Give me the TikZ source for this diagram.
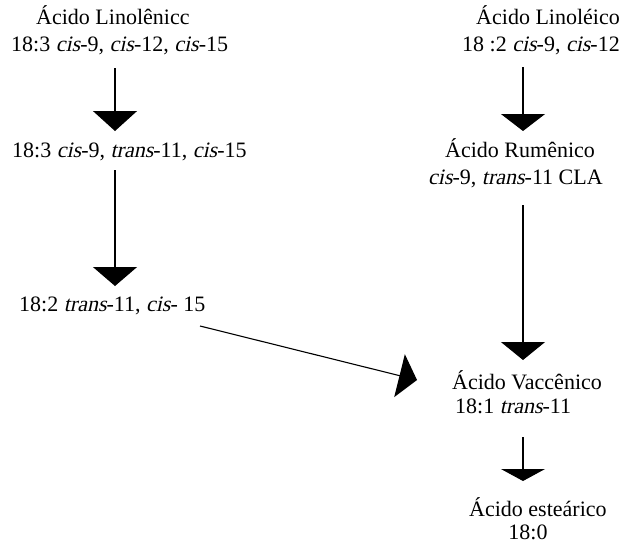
\documentclass[tikz,border=0pt]{standalone}
\usepackage{fontspec}
\setmainfont{Liberation Serif}[ItalicFont={Liberation Serif}, ItalicFeatures={FakeSlant=0.22}]
\usetikzlibrary{arrows.meta}
\begin{document}
\begin{tikzpicture}[x=1pt,y=-1pt,
  lbl/.style={inner sep=0pt, anchor=base west, font=\fontsize{22}{26}\selectfont},
  arr/.style={line width=1.1pt, -{Triangle[width=44pt,length=#1]}},
  arr/.default=19pt]
\useasboundingbox (0,0) rectangle (626,544);
% left column
\node[lbl] (l1a) at (36,24) {Ácido Linolênicc};
\node[lbl] (l1b) at (11,51) {18:3 \textit{cis}-9, \textit{cis}-12, \textit{cis}-15};
\node[lbl] (l2) at (12,157) {18:3 \textit{cis}-9, \textit{trans}-11, \textit{cis}-15};
\node[lbl] (l3) at (19,311) {18:2 \textit{trans}-11, \textit{cis}- 15};
% right column
\node[lbl, anchor=base east] (r1a) at (620,24) {Ácido Linoléico};
\node[lbl, anchor=base east] (r1b) at (620,51) {18 :2 \textit{cis}-9, \textit{cis}-12};
\node[lbl] (r2a) at (445,157) {Ácido Rumênico};
\node[lbl] (r2b) at (428,184) {\textit{cis}-9, \textit{trans}-11 CLA};
\node[lbl] (r3a) at (452,389) {Ácido Vaccênico};
\node[lbl] (r3b) at (455,413) {18:1 \textit{trans}-11};
\node[lbl] (r4a) at (469,516) {Ácido esteárico};
\node[lbl, anchor=base] (r4b) at (528,539) {18:0};
% arrow endpoints
\coordinate (a1s) at (115,68);
\coordinate (a1e) at (115,131);
\coordinate (a2s) at (115,170);
\coordinate (a2e) at (115,286);
\coordinate (a3s) at (200,326);
\coordinate (a3e) at (417,380);
\coordinate (b1s) at (523,67);
\coordinate (b1e) at (523,131);
\coordinate (b2s) at (523,205);
\coordinate (b2e) at (523,360);
\coordinate (b3s) at (523,437);
\coordinate (b3e) at (523,481);
% connectors
\draw[arr=20pt] (a1s) -- (a1e);
\draw[arr=19pt] (a2s) -- (a2e);
\draw[arr=18pt] (a3s) -- (a3e);
\draw[arr=17pt] (b1s) -- (b1e);
\draw[arr=18pt] (b2s) -- (b2e);
\draw[arr=12pt] (b3s) -- (b3e);
\end{tikzpicture}
\end{document}
